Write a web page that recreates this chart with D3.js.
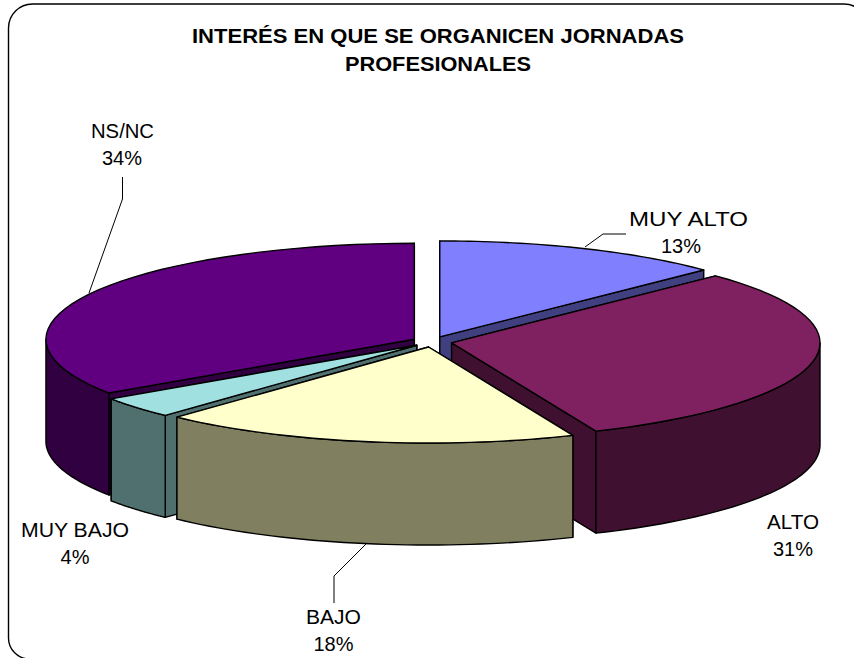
<!DOCTYPE html>
<html><head><meta charset="utf-8">
<script src="https://cdn.jsdelivr.net/npm/d3@7"></script>
<style>html,body{margin:0;padding:0;background:#fff}svg{display:block}text{font-family:"Liberation Sans",Arial,sans-serif;fill:#000}</style>
</head><body><svg id="c" width="854" height="658"></svg>
<script>
const categories=["MUY ALTO","ALTO","BAJO","MUY BAJO","NS/NC"];
const values=[12.7,30.85,18.35,3.6,34.4];
const topColors=["#8080ff","#7f2060","#ffffcc","#a0e0e0","#600080"];
const sideColors=["#404080","#401030","#808060","#507070","#300040"];
const titleLines=["INTERÉS EN QUE SE ORGANICEN JORNADAS","PROFESIONALES"];

const svg=d3.select("#c");
svg.append("path").attr("fill","#fff").attr("stroke","#000").attr("stroke-width",1.4)
 .attr("d",()=>{const p=d3.path(),x0=8.5,y0=4,x1=868,y1=659,r=24,rb=21;
  p.moveTo(x0+r,y0);p.lineTo(x1-r,y0);p.arcTo(x1,y0,x1,y0+r,r);p.lineTo(x1,y1+20);p.lineTo(x0+rb,y1+20);p.lineTo(x0+rb,y1);p.arcTo(x0,y1,x0,y1-rb,rb);p.lineTo(x0,y0+r);p.arcTo(x0,y0,x0+r,y0,r);return p;});

const titleW=[492,186];
titleLines.forEach((t,i)=>svg.append("text").attr("x",438).attr("y",43+i*27.5).attr("text-anchor","middle")
 .attr("font-size",20.5).attr("font-weight","bold").attr("textLength",titleW[i]).attr("lengthAdjust","spacingAndGlyphs").text(t));

const pie=d3.pie().sort(null).value(d=>d)(values);
const cx=432,cy=341.8,rx=368.4,ry=96,depth=102,explode=20,yr=0.265;
const px=(o,a,r=1)=>o[0]+rx*r*Math.sin(a);
const py=(o,a,r=1)=>o[1]-ry*r*Math.cos(a);
const arcPts=(o,a0,a1,dy=0)=>d3.range(0,41).map(i=>{const a=a0+(a1-a0)*i/40;return [px(o,a),py(o,a)+dy];});
const line=d3.line();
const slices=pie.map((d,i)=>{
  const mid=(d.startAngle+d.endAngle)/2;
  return {i,d,mid,o:[cx+explode*Math.sin(mid),cy-explode*yr*Math.cos(mid)]};
});
const order=[0,4,1,3,2];
const g=svg.append("g").attr("stroke","#000").attr("stroke-width",1.4).attr("stroke-linejoin","round");
order.forEach(k=>{
  const s=slices[k],o=s.o,a0=s.d.startAngle,a1=s.d.endAngle,top=topColors[k],side=sideColors[k];
  const faces=[];
  [a0,a1].forEach(a=>{
    const e=[px(o,a),py(o,a)];
    faces.push({z:(o[1]+e[1])/2,pts:[o,e,[e[0],e[1]+depth],[o[0],o[1]+depth]]});
  });
  faces.sort((p,q)=>p.z-q.z).forEach(f=>g.append("path").attr("fill",side).attr("d",line(f.pts)+"Z"));
  const lo=Math.max(a0,Math.PI/2),hi=Math.min(a1,Math.PI*1.5);
  if(hi>lo){
    const up=arcPts(o,lo,hi),dn=arcPts(o,lo,hi,depth).reverse();
    g.append("path").attr("fill",side).attr("d",line(up.concat(dn))+"Z");
  }
  g.append("path").attr("fill",top).attr("d",line([o].concat(arcPts(o,a0,a1)))+"Z");
});

const labelPos=[[688.5,681,226,119],[793,793,529,52],[333.5,333.5,624,55],[75,75,537,108],[122.5,122,138,63]];
const leaders=[[[585,247],[603,234],[626,234]],[],[[367,543],[334,576],[334,603]],[],[[89,293],[122.5,199],[122.5,177]]];
const lg=svg.append("g").attr("fill","none").attr("stroke","#000").attr("stroke-width",1);
leaders.forEach(l=>{if(l.length)lg.append("path").attr("d",line(l));});
labelPos.forEach((l,i)=>{
  svg.append("text").attr("text-anchor","middle").attr("font-size",20).attr("x",l[0]).attr("y",l[2])
    .attr("textLength",l[3]).attr("lengthAdjust","spacingAndGlyphs").text(categories[i]);
  svg.append("text").attr("text-anchor","middle").attr("font-size",20).attr("x",l[1]).attr("y",l[2]+27.3)
    .text(d3.format(".0f")(values[i])+"%");
});
</script></body></html>
